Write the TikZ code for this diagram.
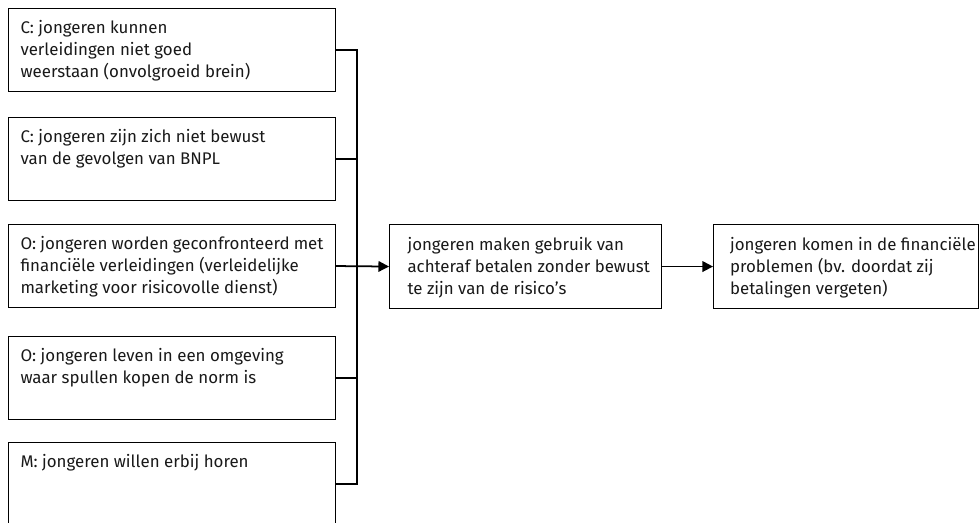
\documentclass[tikz,border=0pt]{standalone}
\usepackage{fontspec}
\setmainfont{Fira Sans}
\usetikzlibrary{arrows.meta}
\newcommand{\factortxt}[1]{\parbox[t][1.2cm][t]{6.06cm}{\raggedright #1}}
\newcommand{\staptxt}[3]{\parbox[t][1.18cm][t]{#1}{\raggedright\leftskip=#2 #3}}

\begin{document}
\begin{tikzpicture}[factor/.style={draw,line width=0.6pt,anchor=north west,inner xsep=0.24cm,inner ysep=0.23cm,font=\fontsize{9.6}{12.5}\selectfont,text=black!90},
  stap/.style={draw,line width=0.6pt,anchor=north west,inner xsep=0.2cm,inner ysep=0.25cm,font=\fontsize{9.6}{12.5}\selectfont,text=black!90},
  conn/.style={line width=1pt},
  pijl/.style={line width=1pt,-{Triangle[length=6pt,width=6pt]}}]
\useasboundingbox (0,0) rectangle (19.58,-10.44);
\clip (0,0) rectangle (19.58,-10.44);
\node[factor] (c1) at (0.16,-0.16) {\factortxt{C: jongeren kunnen\\ verleidingen niet goed\\ weerstaan (onvolgroeid brein)}};
\node[factor] (c2) at (0.16,-2.34) {\factortxt{C: jongeren zijn zich niet bewust\\ van de gevolgen van BNPL}};
\node[factor] (o1) at (0.16,-4.48) {\factortxt{O: jongeren worden geconfronteerd met\\ financi\"ele verleidingen (verleidelijke\\ marketing voor risicovolle dienst)}};
\node[factor] (o2) at (0.16,-6.72) {\factortxt{O: jongeren leven in een omgeving\\ waar spullen kopen de norm is}};
\node[factor] (m1) at (0.16,-8.84) {\factortxt{M: jongeren willen erbij horen}};
\node[stap] (gedrag) at (7.78,-4.48) {\staptxt{5.04cm}{0.16cm}{jongeren maken gebruik van\\ achteraf betalen zonder bewust\\ te zijn van de risico’s}};
\node[stap,inner xsep=0.03cm] (gevolg) at (14.26,-4.48) {\staptxt{5.24cm}{0.3cm}{jongeren komen in de financi\"ele\\ problemen (bv. doordat zij\\ betalingen vergeten)}};
\coordinate (bus) at (7.14,0);
% verzamellijn
\draw[conn] (c1.east) -- (c1.east -| bus) -- (m1.east -| bus) -- (m1.east);
\draw[conn] (c2.east) -- (c2.east -| bus);
\draw[conn] (o2.east) -- (o2.east -| bus);
\draw[pijl] (o1.east) -- (gedrag.west);
\draw[pijl] (gedrag.east) -- (gevolg.west);
\end{tikzpicture}
\end{document}
